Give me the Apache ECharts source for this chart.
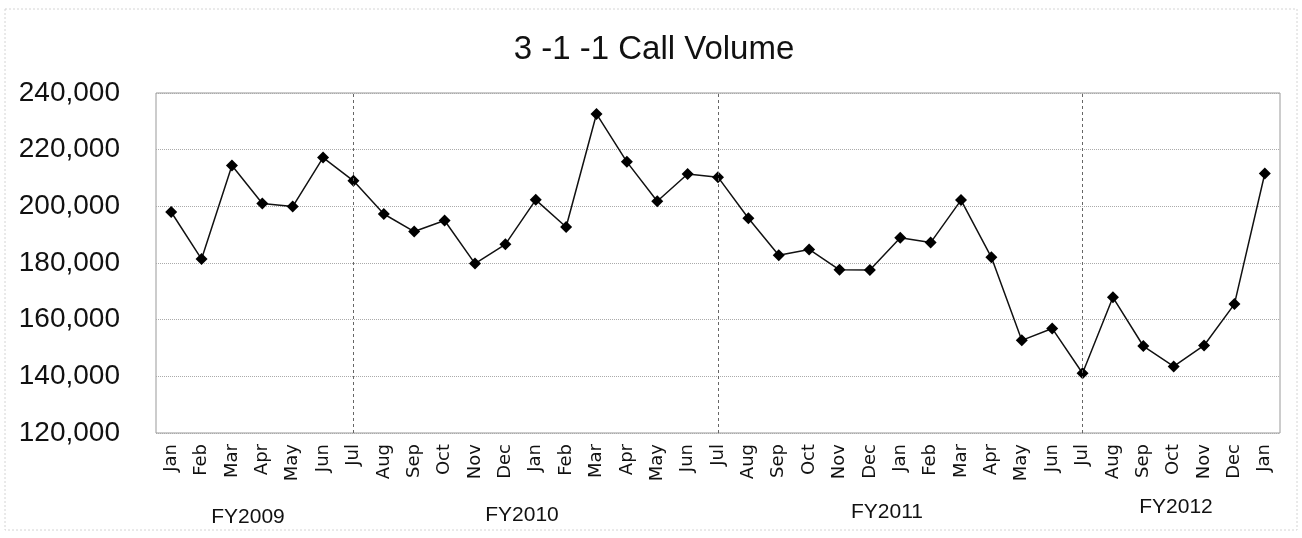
<!DOCTYPE html>
<html>
<head>
<meta charset="utf-8">
<script src="https://cdn.jsdelivr.net/npm/echarts@6/dist/echarts.min.js"></script>
<style>
  html, body { margin: 0; padding: 0; background: #fff; }
  #chart { width: 1302px; height: 538px; }
</style>
</head>
<body>
<div id="chart"></div>
<script>
// month labels, Jan 2009 .. Jan 2012
const months = ['Jan','Feb','Mar','Apr','May','Jun',
  'Jul','Aug','Sep','Oct','Nov','Dec','Jan','Feb','Mar','Apr','May','Jun',
  'Jul','Aug','Sep','Oct','Nov','Dec','Jan','Feb','Mar','Apr','May','Jun',
  'Jul','Aug','Sep','Oct','Nov','Dec','Jan'];

// monthly call volume
const callVolume = [198000, 181400, 214400, 201000, 199900, 217200,
  209000, 197300, 191100, 195000, 179800, 186600, 202300, 192700, 232600, 215700, 201800, 211400,
  210300, 195800, 182700, 184800, 177600, 177500, 188900, 187200, 202200, 182000, 152700, 156900,
  141100, 167900, 150700, 143500, 150900, 165500, 211600];

// fiscal year labels under the axis, and the month index where each new FY starts
const fyLabels = ['FY2009', 'FY2010', 'FY2011', 'FY2012'];
const fyLabelX = [248, 522, 887, 1176];
const fyLabelY = [517, 515, 512, 507];
const fyStarts = [6, 18, 30];

const yTicks = { min: 120000, max: 240000, interval: 20000 };

const font = '"Liberation Sans", Arial, sans-serif';
const chart = echarts.init(document.getElementById('chart'));

const option = {
  animation: false,
  title: {
    text: '3 -1 -1 Call Volume',
    left: 649,
    top: 28,
    textAlign: 'center',
    textStyle: { fontFamily: font, fontSize: 33, fontWeight: 'normal', color: '#111' }
  },
  grid: {
    left: 156, right: 22, top: 93, height: 340,
    show: true, borderColor: '#999', borderWidth: 1
  },
  xAxis: {
    type: 'category',
    data: months,
    boundaryGap: true,
    axisLine: { show: false },
    axisTick: { show: false },
    axisLabel: {
      interval: 0, rotate: 90, margin: 11,
      fontFamily: '"DejaVu Sans", sans-serif', fontSize: 18, color: '#111'
    }
  },
  yAxis: {
    type: 'value',
    min: yTicks.min, max: yTicks.max, interval: yTicks.interval,
    axisLine: { show: false },
    axisTick: { show: false },
    splitLine: { lineStyle: { color: '#aaa', type: 'dotted' } },
    axisLabel: {
      margin: 36, fontFamily: font, fontSize: 28, color: '#111',
      formatter: v => v.toLocaleString('en-US')
    }
  },
  graphic: [{
    type: 'rect',
    shape: { x: 5, y: 9, width: 1292, height: 521 },
    style: { fill: 'none', stroke: '#d4d4d4', lineWidth: 1, lineDash: [2, 2] },
    silent: true
  }].concat(fyLabels.map((t, i) => ({
    type: 'text',
    x: fyLabelX[i],
    y: fyLabelY[i],
    style: {
      text: t, fontFamily: font, fontSize: 21, fill: '#111',
      textAlign: 'center', textVerticalAlign: 'middle'
    }
  }))),
  series: [{
    type: 'line',
    data: callVolume,
    symbol: 'diamond',
    symbolSize: 12,
    itemStyle: { color: '#000' },
    lineStyle: { color: '#111', width: 1.5 },
    markLine: {
      silent: true,
      symbol: 'none',
      label: { show: false },
      lineStyle: { color: '#666', type: [3, 3], width: 1 },
      data: fyStarts.map(i => ({ xAxis: i }))
    }
  }]
};

chart.setOption(option);
</script>
</body>
</html>
